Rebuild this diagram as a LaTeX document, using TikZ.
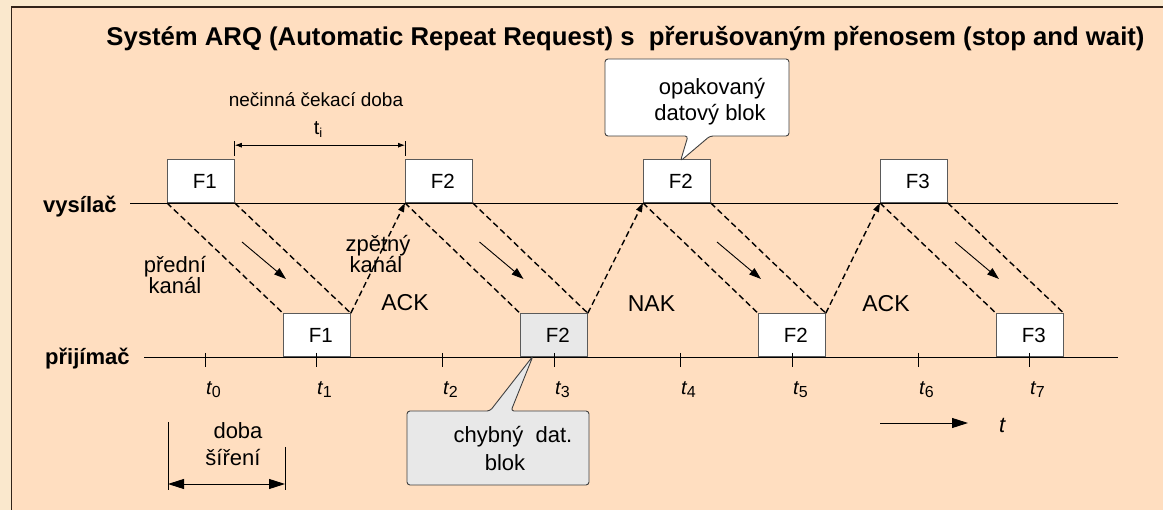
\documentclass[tikz,border=0pt]{standalone}
\usepackage{fontspec}
\setmainfont{Liberation Sans}
\usetikzlibrary{arrows.meta}
\definecolor{outerbg}{RGB}{250,232,205}
\definecolor{innerbg}{RGB}{255,222,192}
\definecolor{framec}{RGB}{50,35,25}
\definecolor{boxline}{RGB}{90,90,90}
\definecolor{errfill}{RGB}{232,232,232}
\definecolor{calline}{RGB}{64,64,64}
\newcommand{\myfs}[1]{\fontsize{#1}{#1}\selectfont}
\newcommand{\tsub}[1]{{\myfs{20}\itshape t}\raisebox{-3pt}{\myfs{16}#1}}
\begin{document}
\begin{tikzpicture}[x=1pt,y=-1pt,
  fbox/.style={draw=boxline, fill=white, minimum width=67pt, minimum height=43pt,
    inner sep=0pt, anchor=south west, line width=0.8pt, font=\myfs{20.5}},
  errbox/.style={fbox, fill=errfill},
  chan/.style={line width=1.4pt, dash pattern=on 6pt off 3.5pt},
  ret/.style={chan, -{Triangle[length=9pt,width=6pt]}},
  dir/.style={line width=0.9pt, -{Triangle[length=12pt,width=8pt]}},
  axis/.style={line width=0.9pt},
  lbl/.style={inner sep=0pt, anchor=base, font=\myfs{22}},
  side/.style={inner sep=0pt, anchor=base west, font=\myfs{22}\bfseries},
  callout/.style={draw=calline, line width=0.9pt, rounded corners=3pt},
  bigtip/.style={line width=0.9pt, -{Triangle[length=16pt,width=10pt]}},
  dim/.style={line width=0.8pt}
]
\useasboundingbox (0,0) rectangle (1163,510);
\fill[outerbg] (0,0) rectangle (1163,510);
\fill[innerbg] (11.5,7) rectangle (1163,510);
\draw[framec, line width=1.5pt] (11.5,510) -- (11.5,7) -- (1163,7);

% title
\node[inner sep=0pt, anchor=base, font=\myfs{25.7}\bfseries] (title) at (625.5,46)
  {Systém ARQ (Automatic Repeat Request) s~~přerušovaným přenosem (stop and wait)};

% side labels and lines
\node[side] (vys) at (43,213) {vysílač};
\node[side] (pri) at (45,365) {přijímač};
\coordinate (vysL) at (130,203);
\coordinate (vysR) at (1118,203);
\coordinate (priL) at (144,357);
\coordinate (priR) at (1118,357);
\draw[axis] (vysL) -- (vysR);
\draw[axis] (priL) -- (priR);

% frames
\node[fbox] (tx1) at (167,203) {\hspace*{8pt}F1};
\node[fbox] (tx2) at (405,203) {\hspace*{8pt}F2};
\node[fbox] (tx3) at (643,203) {\hspace*{8pt}F2};
\node[fbox] (tx4) at (880,203) {\hspace*{8pt}F3};
\node[fbox]   (rx1) at (283,357) {\hspace*{8pt}F1};
\node[errbox] (rx2) at (520,357) {\hspace*{8pt}F2};
\node[fbox]   (rx3) at (758,357) {\hspace*{8pt}F2};
\node[fbox]   (rx4) at (996,357) {\hspace*{8pt}F3};

% forward channels
\foreach \a/\b in {tx1/rx1, tx2/rx2, tx3/rx3, tx4/rx4}{
  \draw[chan] (\a.south west) -- (\b.north west);
  \draw[chan] (\a.south east) -- (\b.north east);
}
% return channels
\draw[ret] (rx1.north east) -- (tx2.south west);
\draw[ret] (rx2.north east) -- (tx3.south west);
\draw[ret] (rx3.north east) -- (tx4.south west);

% direction arrows
\foreach \x in {242,479.5,717,955}{
  \coordinate (d1) at (\x,242);
  \coordinate (d2) at (\x+44,279);
  \draw[dir] (d1) -- (d2);
}

% ticks and time labels
\foreach \x/\k in {205/0, 316/1, 442/2, 554/3, 680/4, 792/5, 918/6, 1029/7}{
  \draw[dim] (\x,353) -- (\x,367);
  \node[inner sep=0pt, anchor=base west] (tl\k) at (\x+1,395) {\tsub{\k}};
}

% idle time
\node[lbl, font=\myfs{19}] (idle) at (316,107) {nečinná čekací doba};
\node[lbl] (ti) at (318,135) {\myfs{20}t\raisebox{-3pt}{\myfs{13}i}};
\draw[dim] ([yshift=18pt]tx1.north east) -- ([yshift=3pt]tx1.north east);
\draw[dim] ([yshift=18pt]tx2.north west) -- ([yshift=3pt]tx2.north west);
\draw[dim, {Latex[length=7pt,width=5pt]}-{Latex[length=7pt,width=5pt]}]
  ([yshift=14pt]tx1.north east) -- ([yshift=14pt]tx2.north west);

% channel labels
\node[lbl] (pred1) at (175,273) {přední};
\node[lbl] (pred2) at (175,294) {kanál};
\node[lbl] (zpet1) at (378,252) {zpětný};
\node[lbl] (zpet2) at (376,273) {kanál};
\node[lbl, font=\myfs{23}] (ack1) at (405,311) {ACK};
\node[lbl, font=\myfs{23}] (nak) at (651.5,312) {NAK};
\node[lbl, font=\myfs{23}] (ack2) at (886,312) {ACK};

% propagation time
\node[lbl] (doba1) at (238,439) {doba};
\node[lbl] (doba2) at (233,466) {šíření};
\coordinate (pa) at (168,484);
\coordinate (pb) at (285,484);
\draw[dim] (168,422) -- (168,490);
\draw[dim] (285,447) -- (285,490);
\draw[line width=0.9pt, {Triangle[length=16pt,width=10pt]}-{Triangle[length=16pt,width=10pt]}] (pa) -- (pb);

% time axis arrow
\coordinate (ta) at (880,423);
\coordinate (tb) at (968,423);
\draw[bigtip] (ta) -- (tb);
\node[inner sep=0pt, anchor=base west, font=\myfs{22}\itshape] (tt) at (999,433) {t};

% callout: repeated block
\draw[callout, fill=white] (605,59) -- (789,59) -- (789,136) -- (710,136) -- (680.5,161) -- (688,136) -- (605,136) -- cycle;
\node[lbl] (rep1) at (712,95) {opakovaný};
\node[lbl] (rep2) at (710,121) {datový blok};

% callout: erroneous block
\draw[callout, fill=errfill] (407,411) -- (490,411) -- (533,356) -- (511,411) -- (589,411) -- (589,485) -- (407,485) -- cycle;
\node[lbl] (err1) at (513,443) {chybný~~dat.};
\node[lbl] (err2) at (505,471) {blok};
\end{tikzpicture}
\end{document}
